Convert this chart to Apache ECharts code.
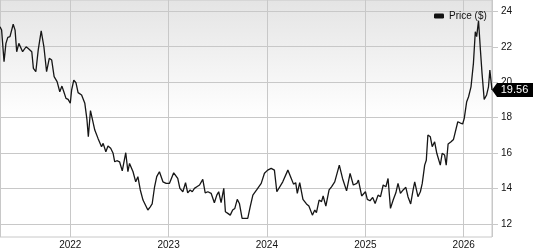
<!DOCTYPE html>
<html><head><meta charset="utf-8">
<script src="https://cdn.jsdelivr.net/npm/echarts@6/dist/echarts.min.js"></script>
<style>html,body{margin:0;padding:0;background:#fff}#c{width:533px;height:250px}</style>
</head><body><div id="c"></div><script>
const dates = [
'2021-04-15','2021-04-21','2021-04-30','2021-05-07','2021-05-14','2021-05-22','2021-06-03','2021-06-10','2021-06-16','2021-06-24',
'2021-07-01','2021-07-08','2021-07-14','2021-07-21','2021-07-29','2021-08-11','2021-08-17','2021-08-26','2021-09-04','2021-09-15',
'2021-09-25','2021-10-05','2021-10-15','2021-10-24','2021-11-02','2021-11-13','2021-11-23','2021-12-01','2021-12-08','2021-12-16','2021-12-24',
'2022-01-01','2022-01-06','2022-01-14','2022-01-22','2022-01-30','2022-02-05','2022-02-12','2022-02-24','2022-03-04','2022-03-09',
'2022-03-17','2022-03-21','2022-04-02','2022-04-14','2022-04-27','2022-05-03','2022-05-13','2022-05-21','2022-05-31','2022-06-09',
'2022-06-15','2022-06-23','2022-07-03','2022-07-13','2022-07-26','2022-08-03','2022-08-09','2022-08-22','2022-09-01','2022-09-09',
'2022-09-18','2022-09-28','2022-10-05','2022-10-16','2022-10-25','2022-11-01','2022-11-10','2022-11-18','2022-11-28','2022-12-11','2022-12-23',
'2023-01-04','2023-01-20','2023-02-04','2023-02-12','2023-02-23','2023-03-05','2023-03-13','2023-03-22','2023-03-30','2023-04-07',
'2023-04-16','2023-04-26','2023-05-08','2023-05-17','2023-05-27','2023-06-08','2023-06-20','2023-06-29','2023-07-06','2023-07-15',
'2023-07-25','2023-07-31','2023-08-09','2023-08-18','2023-08-27','2023-09-04','2023-09-13','2023-09-21','2023-10-01','2023-10-10',
'2023-10-22','2023-10-31','2023-11-10','2023-11-24','2023-12-11','2023-12-23',
'2024-01-04','2024-01-17','2024-01-29','2024-02-07','2024-02-14','2024-02-29','2024-03-19','2024-03-29','2024-04-09','2024-04-17',
'2024-04-23','2024-05-02','2024-05-14','2024-05-27','2024-06-05','2024-06-18','2024-06-27','2024-07-03','2024-07-13','2024-07-22',
'2024-07-28','2024-08-07','2024-08-19','2024-08-28','2024-09-09','2024-09-26','2024-10-08','2024-10-23','2024-11-05','2024-11-17',
'2024-11-30','2024-12-06','2024-12-18',
'2025-01-01','2025-01-08','2025-01-18','2025-01-28','2025-02-06','2025-02-17','2025-02-26','2025-03-08','2025-03-18','2025-03-26',
'2025-04-04','2025-04-14','2025-04-24','2025-05-02','2025-05-11','2025-05-21','2025-05-31','2025-06-08','2025-06-18','2025-06-27',
'2025-07-03','2025-07-15','2025-07-24','2025-07-31','2025-08-09','2025-08-15','2025-08-21','2025-08-30','2025-09-06','2025-09-15',
'2025-09-23','2025-10-06','2025-10-13','2025-10-22','2025-10-28','2025-11-04','2025-11-15','2025-11-24','2025-12-01','2025-12-10',
'2025-12-18','2025-12-28',
'2026-01-03','2026-01-12','2026-01-19','2026-01-28','2026-02-06','2026-02-13','2026-02-18','2026-02-25','2026-03-04','2026-03-10',
'2026-03-18','2026-03-27','2026-04-03','2026-04-08','2026-04-16'
];
const prices = [
23.13,22.94,21.16,22.19,22.53,22.57,23.27,22.94,21.72,22.19,
22.28,21.72,21.66,22.0,21.9,21.72,20.78,20.59,21.82,22.9,
22.0,20.59,21.35,21.25,20.31,20.03,19.46,19.78,19.46,19.09,19.03,
18.81,19.56,20.12,19.97,19.41,19.46,19.28,18.81,17.87,16.92,
18.4,18.33,17.3,16.83,16.36,16.55,16.08,16.4,16.27,15.99,
15.51,15.57,15.51,15.0,16.02,14.95,15.42,14.95,14.38,14.67,
13.92,13.35,13.26,12.79,12.97,13.13,14.1,14.67,14.95,14.38,14.29,
14.29,14.89,14.57,14.01,13.82,14.33,13.76,13.92,13.82,14.01,
14.1,14.2,14.52,13.76,13.82,13.73,13.2,13.63,13.82,13.2,
14.01,12.69,12.6,12.5,12.79,12.88,13.39,13.16,12.32,12.32,
12.32,12.97,13.63,13.92,14.29,14.86,
15.04,15.14,15.04,13.82,13.73,14.38,15.04,14.67,14.25,14.33,
13.73,14.33,13.39,13.13,13.01,12.5,12.79,12.64,13.35,13.26,
13.58,13.01,13.92,14.1,14.38,15.32,14.57,13.87,14.86,14.2,
14.29,14.48,13.58,
13.82,13.39,13.31,13.5,13.16,13.63,13.54,14.2,14.1,14.57,
12.88,13.35,13.76,14.29,13.73,13.92,14.07,13.54,13.13,13.92,
14.38,13.54,13.82,14.29,15.32,15.6,17.02,16.92,16.36,16.64,
15.99,15.32,15.99,15.89,15.32,16.51,16.64,16.77,16.74,17.77,
17.71,17.64,
17.96,18.9,19.18,19.74,21.06,22.85,22.57,23.47,21.82,20.5,
19.03,19.28,19.74,20.68,19.56
];
const seriesName = 'Price ($)';
const xMin = '2021-04-15';
const xMax = '2026-04-16';
const yMin = 12, yMax = 24, yStep = 2;
const lastValue = '19.56';

const chart = echarts.init(document.getElementById('c'), null, {renderer: 'canvas'});
const gridColor = '#c8c8c8';
const data = dates.map((d, i) => [d, prices[i]]);
const last = data[data.length - 1];

chart.setOption({
  animation: false,
  legend: {
    data: [seriesName], left: 429, top: 6, icon: 'roundRect',
    itemWidth: 10, itemHeight: 5,
    textStyle: {fontSize: 10, color: '#111', fontFamily: 'Liberation Sans'}
  },
  grid: [
    {left: 0, right: 41, top: 0, bottom: 10, show: true, borderColor: gridColor, borderWidth: 1,
     backgroundColor: {type: 'linear', x: 0, y: 0, x2: 0, y2: 1,
       colorStops: [{offset: 0, color: '#e4e4e4'}, {offset: 0.5, color: '#ffffff'}, {offset: 1, color: '#ffffff'}]}},
    {left: 0, right: 41, top: 11.3, bottom: 26}
  ],
  xAxis: [
    {type: 'time', gridIndex: 0, min: xMin, max: xMax, minInterval: 360 * 86400000,
     axisLine: {show: false}, axisTick: {show: false},
     splitLine: {show: true, lineStyle: {color: gridColor, width: 1}},
     axisLabel: {fontSize: 10, color: '#111', fontFamily: 'Liberation Sans', margin: 3,
       showMinLabel: false, showMaxLabel: false,
       formatter: v => String(new Date(v).getFullYear())}},
    {type: 'time', gridIndex: 1, min: xMin, max: xMax, show: false}
  ],
  yAxis: [
    {type: 'value', gridIndex: 0, show: false},
    {type: 'value', gridIndex: 1, min: yMin, max: yMax, interval: yStep, position: 'right',
     axisLine: {show: false},
     axisTick: {show: true, length: 6, lineStyle: {color: gridColor}},
     splitLine: {show: true, lineStyle: {color: gridColor, width: 1}},
     axisLabel: {fontSize: 10, color: '#111', fontFamily: 'Liberation Sans', margin: 9}}
  ],
  series: [{
    name: seriesName, type: 'line', xAxisIndex: 1, yAxisIndex: 1,
    data: data, showSymbol: false, symbol: 'none',
    lineStyle: {color: '#161616', width: 1.3},
    itemStyle: {color: '#111'},
    markPoint: {
      silent: true,
      symbol: 'path://M0,7 L5,0 L41,0 L41,14 L5,14 Z',
      symbolSize: [41, 14], symbolKeepAspect: false,
      symbolOffset: [20.5, 0],
      itemStyle: {color: '#000'},
      label: {show: true, position: 'inside', color: '#fff', fontSize: 11,
        fontFamily: 'Liberation Sans', offset: [2, 0], formatter: lastValue},
      data: [{coord: last}]
    }
  }]
});
</script></body></html>
